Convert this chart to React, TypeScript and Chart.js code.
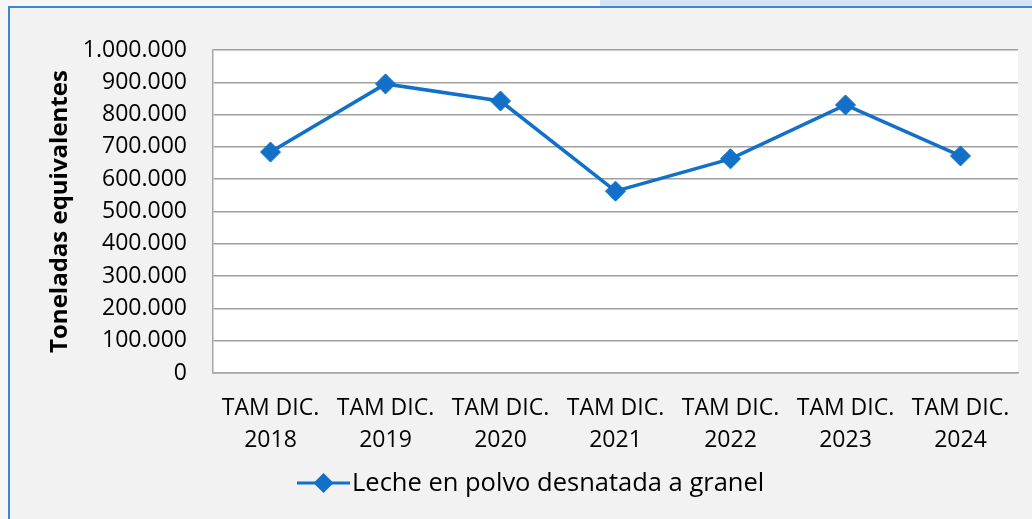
import React, { useEffect, useRef } from "react";
import { Chart, registerables } from "chart.js";

Chart.register(...registerables);

const categories: string[][] = [
  ["TAM DIC.", "2018"],
  ["TAM DIC.", "2019"],
  ["TAM DIC.", "2020"],
  ["TAM DIC.", "2021"],
  ["TAM DIC.", "2022"],
  ["TAM DIC.", "2023"],
  ["TAM DIC.", "2024"],
];
const seriesName = "Leche en polvo desnatada a granel";
const seriesValues: number[] = [684000, 895000, 842000, 563000, 663000, 830000, 672000];
const yAxisTitle = "Toneladas equivalentes";
const yMin = 0;
const yMax = 1000000;
const yStep = 100000;

const BLUE = "#1270c8";
const FONT = "'Open Sans', 'Noto Sans', sans-serif";

function fmt(v: number): string {
  return String(Math.round(v)).replace(/\B(?=(\d{3})+(?!\d))/g, ".");
}

const plotBg = {
  id: "plotBg",
  beforeDraw(chart: any) {
    const { ctx, chartArea } = chart;
    ctx.save();
    ctx.fillStyle = "#ffffff";
    ctx.fillRect(chartArea.left, chartArea.top, chartArea.right - chartArea.left, chartArea.bottom - chartArea.top);
    ctx.restore();
  },
};

const customLegend = {
  id: "customLegend",
  afterDraw(chart: any) {
    const { ctx } = chart;
    const y = 475;
    const x0 = 287;
    const x1 = 340;
    ctx.save();
    ctx.strokeStyle = BLUE;
    ctx.lineWidth = 3;
    ctx.beginPath();
    ctx.moveTo(x0, y);
    ctx.lineTo(x1, y);
    ctx.stroke();
    const cx = (x0 + x1) / 2;
    const r = 10;
    ctx.fillStyle = BLUE;
    ctx.beginPath();
    ctx.moveTo(cx - r, y);
    ctx.lineTo(cx, y - r);
    ctx.lineTo(cx + r, y);
    ctx.lineTo(cx, y + r);
    ctx.closePath();
    ctx.fill();
    ctx.fillStyle = "#000000";
    ctx.font = `25.5px ${FONT}`;
    ctx.textBaseline = "middle";
    ctx.textAlign = "left";
    ctx.fillText(seriesName, x1 + 2, y + 1);
    ctx.restore();
  },
};

export default function App() {
  const ref = useRef<HTMLCanvasElement | null>(null);
  useEffect(() => {
    if (!ref.current) return;
    const chart = new Chart(ref.current, {
      type: "line",
      data: {
        labels: categories,
        datasets: [
          {
            label: seriesName,
            data: seriesValues,
            borderColor: BLUE,
            backgroundColor: BLUE,
            borderWidth: 3.5,
            pointStyle: "rectRot",
            pointRadius: 10,
            pointBorderWidth: 1,
            pointBackgroundColor: BLUE,
            pointBorderColor: BLUE,
            tension: 0,
          },
        ],
      },
      options: {
        responsive: false,
        animation: false,
        layout: { padding: { top: 42, right: 14, bottom: 46, left: 0 } },
        plugins: {
          legend: { display: false },
          tooltip: { enabled: false },
        },
        scales: {
          x: {
            offset: true,
            grid: { display: false, drawTicks: false },
            border: { display: true, color: "#a6a6a6", width: 1.5 },
            ticks: {
              color: "#000000",
              font: { family: FONT, size: 23, lineHeight: 1.39 },
              padding: 19,
              maxRotation: 0,
              autoSkip: false,
            },
            afterFit: (s: any) => {
              s.height = 100;
            },
          },
          y: {
            min: yMin,
            max: yMax,
            grid: { color: "#a0a0a0", lineWidth: 1.5, drawTicks: false },
            border: { display: true, color: "#a6a6a6", width: 1.5 },
            ticks: {
              stepSize: yStep,
              color: "#000000",
              font: { family: FONT, size: 23 },
              padding: 26,
              callback: (v: any) => fmt(Number(v)),
            },
            title: {
              display: true,
              text: yAxisTitle,
              color: "#000000",
              font: { family: FONT, size: 24, weight: "bold" },
              padding: { top: 36, bottom: 0 },
            },
            afterFit: (s: any) => {
              s.width = 203;
            },
          },
        },
      },
      plugins: [plotBg, customLegend],
    });
    return () => chart.destroy();
  }, []);

  return (
    <div style={{ position: "absolute", left: 0, top: 0, width: 1032, height: 519, background: "#f6f6f6", overflow: "hidden" }}>
      <div style={{ position: "absolute", left: 600, top: 0, width: 432, height: 6, background: "#d3e4f5" }} />
      <div
        style={{
          position: "absolute",
          left: 8,
          top: 6,
          width: 1024,
          height: 513,
          background: "#f2f2f2",
          borderTop: "2px solid #3c86d4",
          borderLeft: "2px solid #3c86d4",
          boxSizing: "border-box",
        }}
      />
      <canvas ref={ref} width={1022} height={511} style={{ position: "absolute", left: 10, top: 8, width: 1022, height: 511 }} />
    </div>
  );
}
